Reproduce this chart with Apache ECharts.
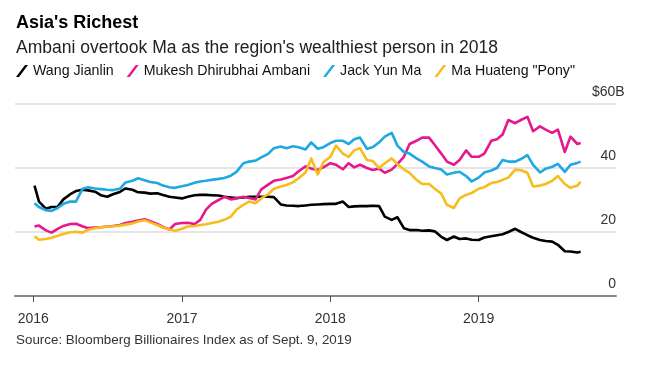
<!DOCTYPE html>
<html>
<head>
<meta charset="utf-8">
<script src="https://cdn.jsdelivr.net/npm/echarts@6/dist/echarts.min.js"></script>
<style>html,body{margin:0;padding:0;background:#fff}#c{width:650px;height:366px}</style>
</head>
<body>
<div id="c"></div>
<script>
const dates = [
'2016-01-04','2016-01-15','2016-02-01','2016-02-15','2016-03-01','2016-03-15','2016-04-01','2016-04-15','2016-05-01','2016-05-15','2016-06-01','2016-06-15',
'2016-07-01','2016-07-15','2016-08-01','2016-08-15','2016-09-01','2016-09-15','2016-10-01','2016-10-15','2016-11-01','2016-11-15','2016-12-01','2016-12-15',
'2017-01-01','2017-01-15','2017-02-01','2017-02-15','2017-03-01','2017-03-15','2017-04-01','2017-04-15','2017-05-01','2017-05-15','2017-06-01','2017-06-15',
'2017-07-01','2017-07-15','2017-08-01','2017-08-15','2017-09-01','2017-09-15','2017-10-01','2017-10-15','2017-11-01','2017-11-15','2017-12-01','2017-12-15',
'2018-01-01','2018-01-15','2018-02-01','2018-02-15','2018-03-01','2018-03-15','2018-04-01','2018-04-15','2018-05-01','2018-05-15','2018-06-01','2018-06-15',
'2018-07-01','2018-07-15','2018-08-01','2018-08-15','2018-09-01','2018-09-15','2018-10-01','2018-10-15','2018-11-01','2018-11-15','2018-12-01','2018-12-15',
'2019-01-01','2019-01-15','2019-02-01','2019-02-15','2019-03-01','2019-03-15','2019-04-01','2019-04-15','2019-05-01','2019-05-15','2019-06-01','2019-06-15',
'2019-07-01','2019-07-15','2019-08-01','2019-08-15','2019-09-01','2019-09-09'
];
const wangJianlin = [34.5,29.5,27.3,27.8,27.9,30.2,31.8,32.8,33.2,33.0,32.6,31.5,31.0,31.8,32.5,33.6,33.2,32.4,32.3,32.0,32.1,31.6,31.0,30.8,
30.5,31.0,31.5,31.6,31.6,31.5,31.4,31.0,30.8,30.6,30.8,31.0,31.0,31.0,31.0,30.9,28.6,28.3,28.2,28.1,28.3,28.5,28.6,28.7,
28.8,28.8,29.5,27.8,28.0,28.1,28.1,28.2,28.1,24.8,23.8,24.6,21.2,20.6,20.6,20.4,20.5,20.2,18.5,17.5,18.6,17.8,18.0,17.6,
17.5,18.3,18.7,19.0,19.3,20.0,21.0,20.0,19.0,18.2,17.5,17.2,17.0,16.0,14.0,13.9,13.6,13.8];
const mukeshAmbani = [21.7,22.0,20.5,19.8,21.0,21.9,22.5,22.6,21.8,21.2,21.4,21.5,21.7,21.9,22.2,22.8,23.2,23.6,24.0,23.4,22.5,21.6,20.8,22.5,
22.8,22.9,22.5,23.8,27.0,28.8,30.0,31.0,30.2,30.5,31.0,30.6,30.2,33.3,34.8,36.0,36.4,36.9,37.5,39.0,40.5,39.8,39.4,40.2,
41.5,41.0,39.6,41.5,40.2,41.0,40.0,39.4,39.8,38.5,39.5,41.2,43.5,47.5,48.5,49.5,49.5,47.2,44.5,42.0,41.0,42.5,45.5,43.5,
43.5,44.5,48.5,49.0,50.5,55.0,54.0,55.0,56.0,51.5,53.0,52.0,51.0,52.0,45.0,49.8,47.5,47.8];
const jackMa = [29.0,27.8,26.8,26.6,27.5,28.8,29.5,29.5,33.5,34.0,33.6,33.4,33.2,33.1,33.5,35.5,36.0,36.8,36.2,35.6,35.3,34.5,34.0,33.8,
34.3,34.7,35.4,35.8,36.0,36.3,36.6,36.9,37.6,38.8,41.5,42.0,42.3,43.3,44.4,46.2,46.7,46.2,46.8,46.5,45.8,48.0,46.0,46.5,
47.8,48.5,48.5,47.5,49.0,49.5,46.0,46.5,48.0,49.8,51.0,47.0,45.0,44.5,43.0,42.0,40.5,40.0,39.5,38.0,38.5,38.8,37.5,35.8,
37.0,38.6,39.2,40.0,42.5,42.0,42.0,42.8,44.0,41.0,38.6,39.8,40.4,41.3,38.8,41.0,41.6,42.0];
const maHuateng = [18.7,17.6,17.8,18.2,18.8,19.4,19.9,20.1,19.8,20.7,21.2,21.5,21.7,21.8,22.0,22.3,22.7,23.3,23.7,23.0,22.2,21.4,20.8,20.4,
21.0,21.7,21.9,22.2,22.4,22.8,23.2,23.8,24.8,27.0,28.5,29.5,29.0,30.5,31.8,33.5,34.2,34.7,35.5,36.8,38.6,43.0,38.0,41.8,
43.5,47.0,44.5,43.5,45.5,46.2,42.5,42.2,40.0,41.5,43.0,41.2,39.6,38.5,36.3,35.0,35.0,33.5,32.0,28.5,27.5,30.5,31.6,32.2,
33.5,34.0,35.3,35.6,36.3,37.0,39.5,39.3,38.5,34.2,34.5,35.0,36.0,37.5,35.0,33.8,34.5,35.7];
const seriesNames = ['Wang Jianlin','Mukesh Dhirubhai Ambani','Jack Yun Ma','Ma Huateng "Pony"'];
const seriesColors = ['#000000','#e5198b','#1fa8e2','#f6bd1c'];
const yearTicks = ['2016-01-01','2017-01-01','2018-01-01','2019-01-01'];
const yearLabels = ['2016','2017','2018','2019'];

const FONT = "'Liberation Sans', Arial, Helvetica, sans-serif";
const toTs = s => { const p = s.split('-').map(Number); return Date.UTC(p[0], p[1]-1, p[2]); };
const pair = vals => dates.map((d,i)=>[toTs(d), vals[i]]);
const allVals = [wangJianlin, mukeshAmbani, jackMa, maHuateng];
const tickTs = yearTicks.map(toTs);
const slash = 'path://M0,12 L3,12 L12,0 L9,0 Z';

const chart = echarts.init(document.getElementById('c'), null, {renderer:'canvas'});
chart.setOption({
  animation:false,
  backgroundColor:'#fff',
  title:[
    {text:"Asia's Richest", left:16, top:14, padding:0, textStyle:{fontFamily:FONT,fontSize:18,fontWeight:'bold',color:'#000'}},
    {text:"Ambani overtook Ma as the region's wealthiest person in 2018", left:16, top:39, padding:0, textStyle:{fontFamily:FONT,fontSize:17.5,fontWeight:'normal',color:'#222'}},
    {text:"Source: Bloomberg Billionaires Index as of Sept. 9, 2019", left:16, top:334, padding:0, textStyle:{fontFamily:FONT,fontSize:13.4,fontWeight:'normal',color:'#333'}}
  ],
  legend:{
    left:16, top:64, padding:0, itemWidth:12, itemHeight:14, itemGap:13,
    icon:slash, itemStyle:{borderWidth:0},
    textStyle:{fontFamily:FONT,fontSize:14.2,color:'#111'},
    data:seriesNames
  },
  grid:{left:15, right:34, top:104, bottom:70, containLabel:false},
  xAxis:{
    type:'value',
    min:toTs('2015-11-17'), max:toTs('2019-12-05'),
    axisLine:{show:true, onZero:false, lineStyle:{color:'#8a8a8a', width:2}},
    axisTick:{show:true, customValues:tickTs, length:6, lineStyle:{color:'#555', width:1}},
    axisLabel:{customValues:tickTs, formatter:v=>yearLabels[tickTs.indexOf(v)] || '', margin:16, fontFamily:FONT, fontSize:14, color:'#333'},
    splitLine:{show:false}
  },
  yAxis:{
    type:'value', position:'right', min:0, max:60, interval:20,
    axisLine:{show:false}, axisTick:{show:false},
    splitLine:{show:true, lineStyle:{color:'#dedede', width:1.5}},
    axisLabel:{inside:true, margin:0, verticalAlign:'bottom', padding:[0,0,5,0], fontFamily:FONT, fontSize:14, color:'#333',
      formatter:v=> v===60 ? '{u|$60B}' : String(v),
      rich:{u:{width:24, align:'left', fontFamily:FONT, fontSize:14, color:'#333'}}}
  },
  series: seriesNames.map((n,i)=>({
    name:n, type:'line', data:pair(allVals[i]), showSymbol:false, symbol:'none',
    color:seriesColors[i], lineStyle:{color:seriesColors[i], width:2.6, join:'round'}, z:2+i
  }))
});
</script>
</body>
</html>
